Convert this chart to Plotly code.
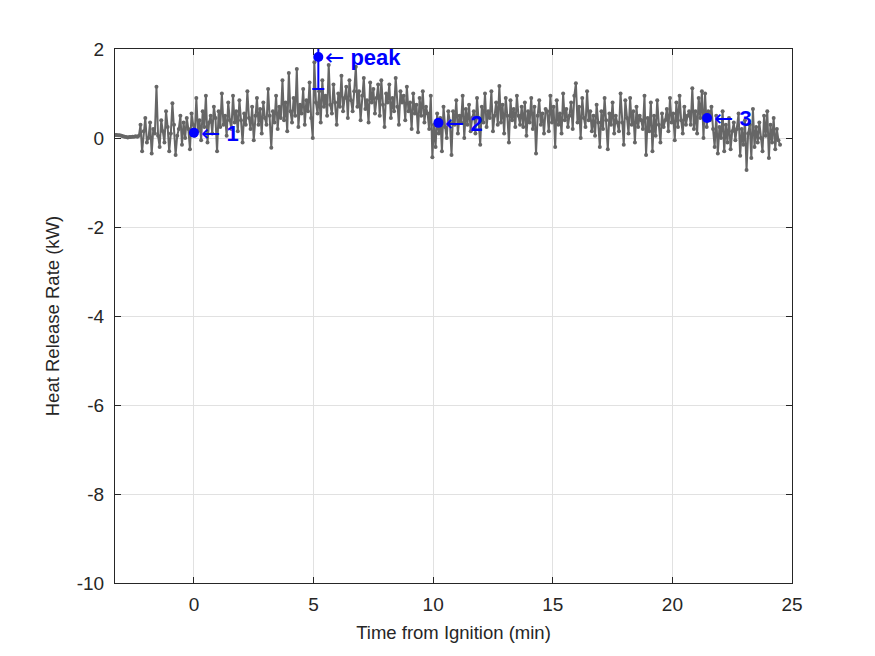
import numpy as np
import plotly.graph_objects as go

# ---- data ----
t_start = -3.3          # min, first sample
dt = 1.0 / 15.0         # min, 4 s sampling

hrr_pre = [0.07, 0.07, 0.06, 0.06, 0.05, 0.04, 0.03, 0.02, 0.01, 0.02, 0.02, 0.03, 0.03, 0.04, 0.03, 0.05]
hrr_main = [
    0.3, -0.3, 0.15, 0.45, -0.1, 0.0, 0.35, -0.35, 0.2, 0.1, 1.15, 0.05, -0.2, 0.4, 0.15,
    -0.1, 0.6, 0.25, -0.3, 0.1, 0.78, 0.3, -0.38, 0.05, 0.2, 0.5, -0.15, 0.35, 0.0, 0.45,
    0.2, -0.25, 0.55, 0.3, 0.05, 0.9, 0.15, 0.4, -0.05, 0.6, 0.25, 0.95, -0.1, 0.35, 0.5,
    0.1, 0.7, 0.45, -0.3, 0.6, 0.25, 1.0, 0.3, 0.5, 0.05, 0.8, 0.4, 0.2, 0.95, 0.35,
    0.6, 0.15, 0.85, 0.4, -0.1, 0.55, 0.3, 1.05, 0.45, 0.2, 0.7, -0.05, 0.5, 0.9, 0.3,
    0.65, 0.1, 0.8, 0.45, 0.3, 1.1, 0.5, -0.22, 0.6, 0.35, 0.95, 0.2, 0.7, 0.45, 1.3,
    0.4, 0.8, 0.15, 1.46, 0.6, 0.35, 0.9, 0.5, 1.55, 0.25, 0.75, 0.55, 1.1, 0.3, 0.85,
    0.6, 1.25, 0.45, 0.0, 1.7, 0.8, 0.55, 1.05, 0.35, 1.3, 0.7, 0.95, 0.5, 1.64, 0.75,
    0.55, 1.2, 0.8, 0.3, 1.0, 0.7, 1.4, 0.6, 0.9, 1.15, 0.45, 1.3, 0.85, 0.6, 1.05,
    1.6, 0.7, 1.05, 0.4, 0.95, 1.35, 0.65, 0.85, 0.35, 1.25, 0.8, 1.1, 0.55, 0.9, 1.2,
    0.5, 1.3, 0.75, 0.25, 1.0, 0.8, 1.2, 0.45, 0.9, 0.6, 1.35, 0.7, 0.3, 1.05, 0.8,
    0.95, 0.4, 1.15, 0.6, 0.8, 0.2, 1.0, 0.55, 0.75, 0.13, 0.9, 0.5, 1.05, 0.35, 0.7,
    0.55, 0.2, 0.95, -0.43, 0.3, -0.2, 0.55, 0.1, 0.45, -0.3, 0.7, 0.25, 0.0, 0.6, 0.35,
    -0.38, 0.6, 0.3, 0.85, 0.1, 0.5, 0.35, 0.95, 0.0, 0.65, 0.3, 0.75, 0.15, 0.45, 0.6,
    0.1, 0.9, 0.45, -0.15, 0.7, 0.35, 1.0, 0.25, 0.6, 0.45, 1.05, 0.15, 0.5, 0.8, 0.3,
    1.17, 0.35, 0.75, 0.1, 0.9, 0.5, -0.1, 0.85, 0.4, 0.65, 0.25, 0.95, 0.5, 0.3, 0.7,
    0.25, 0.8, 0.05, 0.6, 0.35, 0.9, 0.2, 0.7, -0.35, 0.5, 0.85, 0.3, 0.55, 0.1, 0.65,
    0.6, 0.15, 0.95, 0.35, 0.7, -0.2, 0.85, 0.3, 0.55, 0.1, 1.0, 0.4, 0.65, 0.25, 0.5,
    0.8, 0.2, 0.95, 1.23, 0.35, 0.7, 0.0, 0.9, 0.45, 0.25, 1.05, 0.4, 0.6, 0.15, 0.5,
    0.05, 0.75, 0.35, -0.2, 0.6, 0.2, 0.9, 0.4, -0.25, 0.55, 0.3, 0.8, 0.1, 0.5, 0.35,
    0.15, 1.0, 0.35, -0.15, 0.85, 0.45, 0.1, 0.9, 0.3, 0.6, -0.1, 0.7, 0.25, 0.5, 0.4,
    0.2, 0.95, -0.38, 0.45, 0.15, 0.8, -0.3, 0.5, 0.05, 0.85, 0.3, -0.1, 0.55, 0.25, 0.4,
    0.65, 0.15, 0.9, 0.35, 0.55, -0.05, 0.8, 0.25, 0.95, 0.4, 0.1, 0.7, 0.3, 0.5, 0.6,
    0.3, 1.12, 0.2, 0.6, 0.1, 0.9, 0.45, 1.05, 0.0, 1.0, 0.25, 0.6, 0.4, 0.7, 0.2,
    -0.2, 0.5, -0.35, 0.25, 0.0, 0.6, -0.3, 0.3, -0.1, 0.45, -0.25, 0.15, 0.35, -0.05, 0.2,
    0.55, -0.4, 0.2, -0.15, 0.4, -0.72, 0.1, 0.3, -0.45, 0.65, -0.2, 0.25, -0.1, 0.35, 0.0,
    -0.3, 0.5, 0.05, 0.6, -0.45, 0.3, -0.1, 0.45, -0.25, 0.2, -0.05, -0.15,
]
hrr = hrr_pre + hrr_main
time_min = t_start + dt * np.arange(len(hrr))

# marked points
mark_labels = ["1", "peak", "2", "3"]
mark_t = [0.0, 5.2, 10.22, 21.45]
mark_v = [0.12, 1.82, 0.34, 0.45]
peak_err = 0.72

x_ticks = [0, 5, 10, 15, 20, 25]
x_ticktext = ["0", "5", "10", "15", "20", "25"]
y_ticks = [-10, -8, -6, -4, -2, 0, 2]
y_ticktext = ["-10", "-8", "-6", "-4", "-2", "0", "2"]

GRAY = "rgb(102,102,102)"
BLUE = "rgb(0,0,255)"
INK = "rgb(38,38,38)"
FONT = "Liberation Sans, Arial, Helvetica, sans-serif"

fig = go.Figure()
fig.add_trace(go.Scatter(
    x=time_min, y=hrr, mode="lines+markers",
    line=dict(color=GRAY, width=2),
    marker=dict(color=GRAY, size=4),
    showlegend=False, hoverinfo="skip",
))
# peak with error bar
fig.add_trace(go.Scatter(
    x=[mark_t[1]], y=[mark_v[1]], mode="markers",
    marker=dict(color=BLUE, size=10),
    error_y=dict(type="data", array=[peak_err], color=BLUE, thickness=2, width=6),
    showlegend=False,
))
fig.add_trace(go.Scatter(
    x=[mark_t[i] for i in (0, 2, 3)], y=[mark_v[i] for i in (0, 2, 3)],
    mode="markers", marker=dict(color=BLUE, size=10), showlegend=False,
))
for lab, tx, vy in zip(mark_labels, mark_t, mark_v):
    fig.add_annotation(
        x=tx, y=vy,
        text="<span style='font-family:DejaVu Sans;font-size:23px'>←</span> <b>" + lab + "</b>",
        showarrow=False, xanchor="left", yanchor="middle", xshift=5, yshift=0,
        font=dict(family=FONT, size=22, color=BLUE),
    )

axis_common = dict(
    showline=True, linecolor=INK, linewidth=1, mirror="allticks",
    ticks="inside", ticklen=6, tickcolor=INK,
    showgrid=True, gridcolor="rgb(225,225,225)", gridwidth=1,
    zeroline=False, tickfont=dict(family=FONT, size=19, color=INK),
)
fig.update_xaxes(range=[-3.3, 25], tickvals=x_ticks, ticktext=x_ticktext,
                 ticklabelstandoff=4,
                 title=dict(text="Time from Ignition (min)", font=dict(family=FONT, size=18.5, color=INK), standoff=12),
                 **axis_common)
fig.update_yaxes(range=[-10, 2], tickvals=y_ticks, ticktext=y_ticktext,
                 ticklabelstandoff=6,
                 title=dict(text="Heat Release Rate (kW)", font=dict(family=FONT, size=18.5, color=INK), standoff=12),
                 **axis_common)
fig.update_layout(
    width=875, height=656,
    margin=dict(l=115, r=83, t=49, b=73),
    paper_bgcolor="white", plot_bgcolor="white",
    showlegend=False,
)
fig.write_html("out.html")
